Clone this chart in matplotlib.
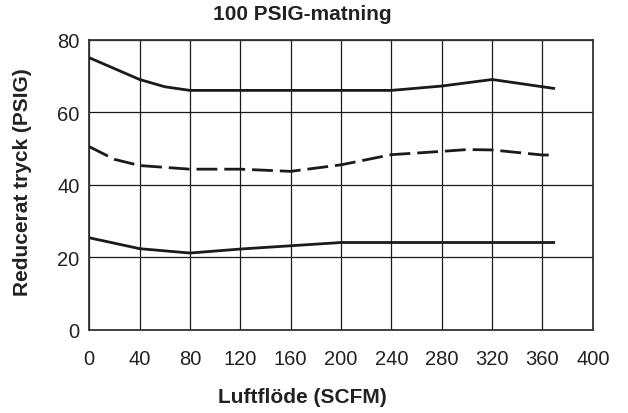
import matplotlib
matplotlib.use("Agg")
import matplotlib.pyplot as plt

plt.rcParams['font.family'] = ['Liberation Sans', 'DejaVu Sans']

x_high = [0, 40, 60, 80, 120, 160, 200, 240, 280, 320, 370]
p_high = [75.0, 69.0, 67.0, 66.0, 66.0, 66.0, 66.0, 66.0, 67.2, 69.0, 66.5]

x_mid = [0, 20, 40, 80, 120, 160, 200, 240, 280, 300, 320, 360, 370]
p_mid = [50.5, 47.0, 45.3, 44.3, 44.3, 43.7, 45.5, 48.3, 49.2, 49.7, 49.6, 48.2, 48.2]

x_low = [0, 40, 80, 120, 160, 200, 240, 280, 320, 370]
p_low = [25.4, 22.4, 21.2, 22.3, 23.2, 24.1, 24.1, 24.1, 24.1, 24.1]

x_ticks = list(range(0, 401, 40))
y_ticks = [0, 20, 40, 60, 80]

fig = plt.figure(figsize=(6.28, 4.14), dpi=100)
ax = fig.add_axes([0.1422, 0.2005, 0.8018, 0.7015])

ax.plot(x_high, p_high, color='#1a1a1a', lw=2.0, solid_capstyle='butt', zorder=3)
ax.plot(x_mid, p_mid, color='#1a1a1a', lw=2.0, dashes=(7.5, 2.5), zorder=3)
ax.plot(x_low, p_low, color='#1a1a1a', lw=2.0, solid_capstyle='butt', zorder=3)

ax.set_xlim(0, 400)
ax.set_ylim(0, 80)
ax.set_xticks(x_ticks)
ax.set_yticks(y_ticks)
ax.grid(True, color='#1a1a1a', lw=0.9)
ax.tick_params(length=0, labelsize=14.5, colors='#222222', pad=7)
ax.tick_params(axis='x', pad=14)
for s in ax.spines.values():
    s.set_color('#333333')
    s.set_linewidth(1.3)

# title and axis labels sit left of the axes centre in the reference
fig.text(0.481, 0.9517, "100 PSIG-matning", fontsize=15, fontweight='bold',
         color='#222222', ha='center', va='baseline')
fig.text(0.481, 0.0266, "Luftflöde (SCFM)", fontsize=15, fontweight='bold',
         color='#222222', ha='center', va='baseline')
fig.text(0.0366, 0.559, "Reducerat tryck (PSIG)", fontsize=15, fontweight='bold',
         color='#222222', ha='center', va='center', rotation=90)

fig.savefig("out.png", dpi=100)
